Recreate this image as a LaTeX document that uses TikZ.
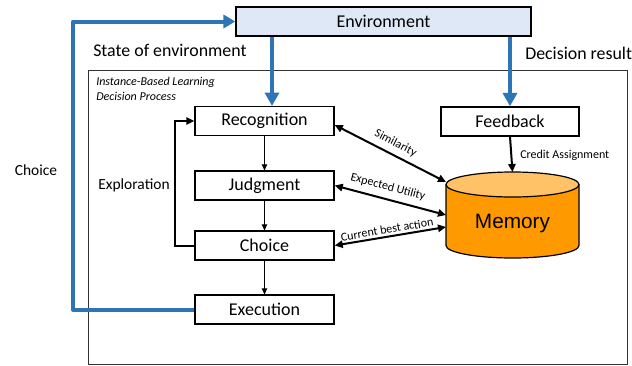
\documentclass[tikz,border=0pt]{standalone}
\usepackage{fontspec}
\setmainfont{Carlito}
\newfontfamily\arialf{Liberation Sans}
\usetikzlibrary{arrows.meta}
\definecolor{ibblue}{HTML}{2E75B6}
\definecolor{envfill}{HTML}{DEE8F6}
\definecolor{membody}{HTML}{FF9900}
\definecolor{memtop}{HTML}{FFC266}
\begin{document}
\begin{tikzpicture}[x=0.75pt,y=-0.75pt,
  procbox/.style={draw=black, line width=1.1pt, fill=white, inner sep=0pt,
    minimum width=104.25pt, minimum height=21.5pt, font=\fontsize{13.5}{16}\selectfont},
  bluearrow/.style={draw=ibblue, line width=3pt, -{Triangle[length=10pt,width=10.5pt]}},
  thinarrow/.style={draw=black, line width=0.75pt, -{Triangle[length=4.5pt,width=4pt]}},
  thickarrow/.style={draw=black, line width=1.5pt, -{Triangle[length=6pt,width=5.5pt]}},
  dblarrow/.style={draw=black, line width=1.5pt, {Triangle[length=6pt,width=5.5pt]}-{Triangle[length=6pt,width=5.5pt]}},
  smalllbl/.style={font=\fontsize{9}{11}\selectfont, inner sep=1pt},
  midlbl/.style={font=\fontsize{11.6}{14}\selectfont, inner sep=0pt},
  biglbl/.style={font=\fontsize{13.4}{16}\selectfont, inner sep=0pt}]
\useasboundingbox (0,0) rectangle (632,365);

% outer frame
\draw[line width=0.6pt, draw=black!80] (88,70.5) rectangle (627,364.3);

% environment
\node[procbox, fill=envfill, minimum width=221.25pt, minimum height=21.75pt] (env) at (383.5,21.5) {Environment};

% process boxes
\node[procbox] (rec) at (264.5,121) {Recognition};
\node[procbox] (jud) at (264.5,185.5) {Judgment};
\node[procbox] (cho) at (264.5,245.5) {Choice};
\node[procbox] (exe) at (264.5,309.5) {Execution};
\node[procbox, minimum width=103.5pt, minimum height=21.75pt] (fb) at (510,121.5) {Feedback};

% memory cylinder
\fill[membody] (446,184.5) -- (446,245.5)
  .. controls (446,252.4) and (475.8,258) .. (512.5,258)
  .. controls (549.2,258) and (579,252.4) .. (579,245.5) -- (579,184.5) -- cycle;
\draw[line width=0.9pt] (446,184.5) -- (446,245.5)
  .. controls (446,252.4) and (475.8,258) .. (512.5,258)
  .. controls (549.2,258) and (579,252.4) .. (579,245.5) -- (579,184.5);
\draw[line width=0.9pt, fill=memtop] (512.5,184.5) ellipse [x radius=66.5, y radius=12.5];
\node[inner sep=0pt, minimum width=99.75pt, font=\arialf\fontsize{15.6}{18}\selectfont] (mem) at (512.5,223) {Memory};
\coordinate (memtopc) at (512.5,172);
\coordinate (m1) at (446,182);
\coordinate (m2) at (446,215);
\coordinate (m3) at (446,227);

% blue arrows
\coordinate (ax) at (272,0);
\coordinate (bx) at (73,0);
\draw[bluearrow] (env.south -| ax) -- (rec.north -| ax);
\draw[bluearrow] (env.south -| fb.north) -- (fb.north);
\draw[bluearrow, -{Triangle[length=9pt,width=10pt]}, line join=round] (exe.west) -- (exe.west -| bx) |- (env.west);

% internal thin arrows
\draw[thinarrow] (rec.south) -- (jud.north);
\draw[thinarrow] (jud.south) -- (cho.north);
\draw[thinarrow] (cho.south) -- (exe.north);

% exploration loop
\draw[thickarrow] (cho.west) -- ++(-19,0) |- (rec.west);

% credit assignment
\draw[thickarrow] (fb.south) -- (memtopc);

% memory links
\draw[dblarrow] ([yshift=-3pt]rec.east) -- node[pos=0.5, sloped, above=3pt, smalllbl] {Similarity} (m1);
\draw[dblarrow] (jud.east) -- node[pos=0.45, sloped, above=3.5pt, smalllbl] {Expected Utility} (m2);
\draw[dblarrow] (cho.east) -- node[pos=0.48, sloped, above=0.5pt, smalllbl] {Current best action} (m3);

% labels
\node[biglbl, anchor=west] (soe) at (93,50) {State of environment};
\node[biglbl, anchor=west] (dr) at (525,53) {Decision result};
\node[smalllbl, anchor=north west, align=left, font=\itshape\fontsize{9}{11}\selectfont, inner sep=0pt] (ibl) at (96,77) {Instance-Based Learning\\Decision Process};
\node[midlbl] (chl) at (36,170) {Choice};
\node[midlbl] (expl) at (134,185.5) {Exploration};
\node[smalllbl, anchor=west, inner sep=0pt] (ca) at (520,155) {Credit Assignment};
\end{tikzpicture}
\end{document}
